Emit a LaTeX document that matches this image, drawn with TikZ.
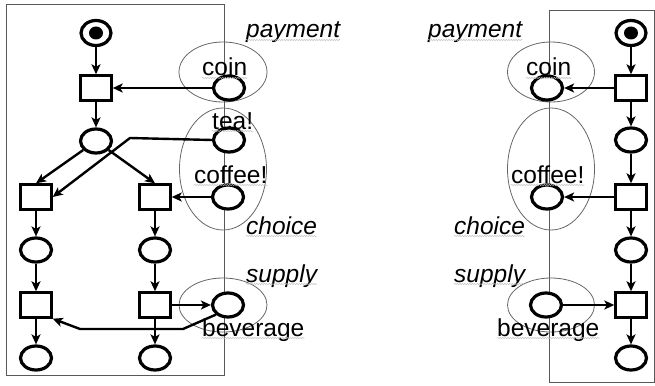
\documentclass[tikz,border=0pt]{standalone}
\usepackage{fontspec}
\setmainfont{Liberation Sans}
\usetikzlibrary{arrows.meta,shapes.geometric,decorations.pathmorphing}
\begin{document}
\begin{tikzpicture}[x=1pt,y=-1pt,
  place/.style={draw,line width=3.2pt,ellipse,fill=white,minimum width=31pt,minimum height=24pt,inner sep=0pt},
  token/.style={draw,line width=3.2pt,ellipse,fill=white,minimum width=30pt,minimum height=25pt,inner sep=0pt,
     path picture={\fill[black] (path picture bounding box.center) ellipse (7pt and 6.5pt);}},
  trans/.style={draw,line width=2.4pt,rectangle,fill=white,minimum width=31pt,minimum height=25pt,inner sep=0pt},
  arc/.style={line width=2.4pt,-{Stealth[length=10pt,width=9pt,inset=2.5pt]}},
  frame/.style={draw=black!65,line width=1pt},
  group/.style={draw=black!60,line width=0.8pt},
  lbl/.style={font=\fontsize{24.5}{24.5}\selectfont,inner sep=0pt,anchor=base west},
  ilbl/.style={lbl,font=\fontsize{24.5}{24.5}\selectfont\itshape},
  squiggle/.style={draw=black!25,line width=0.5pt,decorate,decoration={snake,amplitude=0.6pt,segment length=2.5pt}}
]
\useasboundingbox (0,0) rectangle (655,385);

% frames
\draw[frame] (6,5) rectangle (224,375);
\draw[frame] (549,11) rectangle (654,382);

% group ellipses left
\node[group,ellipse,minimum width=88pt,minimum height=60pt,inner sep=0pt] (gpayL) at (223,72) {};
\node[group,ellipse,minimum width=87pt,minimum height=122pt,inner sep=0pt] (gchoL) at (223,169) {};
\node[group,ellipse,minimum width=88pt,minimum height=54pt,inner sep=0pt] (gsupL) at (223,305) {};
% group ellipses right
\node[group,ellipse,minimum width=87pt,minimum height=60pt,inner sep=0pt] (gpayR) at (551,72) {};
\node[group,ellipse,minimum width=87pt,minimum height=122pt,inner sep=0pt] (gchoR) at (551,169) {};
\node[group,ellipse,minimum width=87pt,minimum height=54pt,inner sep=0pt] (gsupR) at (551,305) {};

% left net
\node[token] (i1) at (96,33) {};
\node[trans] (t1) at (96,88) {};
\node[place] (p2) at (96,141) {};
\node[trans] (ta) at (36,197) {};
\node[trans] (tb) at (155,197) {};
\node[place] (pa3) at (36,250) {};
\node[place] (pb3) at (155,250) {};
\node[trans] (ta4) at (36,305) {};
\node[trans] (tb4) at (155,305) {};
\node[place] (pa5) at (36,358) {};
\node[place] (pb5) at (155,358) {};
\node[place] (coinL) at (229,88) {};
\node[place] (teaL) at (229,140) {};
\node[place] (cofL) at (228,197) {};
\node[place] (bevL) at (228,305) {};
\coordinate (teabend) at (130,138);
\coordinate (bevbend1) at (183,329);
\coordinate (bevbend2) at (80,329);

\draw[arc] (i1) -- (t1);
\draw[arc] (coinL) -- (t1);
\draw[arc] (t1) -- (p2);
\draw[arc] (p2) -- (ta.north);
\draw[arc] (p2) -- (tb.north);
\draw[arc] (teaL.west) -- (teabend) -- (ta.east);
\draw[arc] (cofL) -- (tb);
\draw[arc] (ta) -- (pa3);
\draw[arc] (tb) -- (pb3);
\draw[arc] (pa3) -- (ta4);
\draw[arc] (pb3) -- (tb4);
\draw[arc] (ta4) -- (pa5);
\draw[arc] (tb4) -- (pb5);
\draw[arc] (tb4) -- (bevL);
\draw[arc] (bevL.south west) -- (bevbend1) -- (bevbend2) -- (ta4.south east);

% right net
\node[token] (ri1) at (631,33) {};
\node[trans] (rt1) at (631,88) {};
\node[place] (rp2) at (631,140) {};
\node[trans] (rt2) at (631,197) {};
\node[place] (rp3) at (631,250) {};
\node[trans] (rt4) at (631,305) {};
\node[place] (rp5) at (631,358) {};
\node[place] (coinR) at (547,88) {};
\node[place] (cofR) at (547,197) {};
\node[place] (bevR) at (546,305) {};

\draw[arc] (ri1) -- (rt1);
\draw[arc] (rt1) -- (coinR);
\draw[arc] (rt1) -- (rp2);
\draw[arc] (rp2) -- (rt2);
\draw[arc] (rt2) -- (cofR);
\draw[arc] (rt2) -- (rp3);
\draw[arc] (rp3) -- (rt4);
\draw[arc] (bevR) -- (rt4);
\draw[arc] (rt4) -- (rp5);

% labels left
\node[ilbl] (payLt) at (246,38) {payment};
\node[lbl] (coinLt) at (202,76) {coin};
\node[lbl] (teaLt) at (212,129) {tea!};
\node[lbl] (cofLt) at (194,183) {coffee!};
\node[ilbl] (choLt) at (246,234) {choice};
\node[ilbl] (supLt) at (246,282) {supply};
\node[lbl] (bevLt) at (202,336) {beverage};
% labels right
\node[ilbl] (payRt) at (428,38) {payment};
\node[lbl] (coinRt) at (526,76) {coin};
\node[lbl] (cofRt) at (511,183) {coffee!};
\node[ilbl] (choRt) at (454,234) {choice};
\node[ilbl] (supRt) at (454,282) {supply};
\node[lbl] (bevRt) at (497,336) {beverage};

% spell-check squiggles
\foreach \n in {payLt,coinLt,teaLt,cofLt,choLt,supLt,bevLt,payRt,coinRt,cofRt,choRt,supRt,bevRt}
  \draw[squiggle] ([yshift=-2pt]\n.base west) -- ([yshift=-2pt]\n.base east);
\end{tikzpicture}
\end{document}
